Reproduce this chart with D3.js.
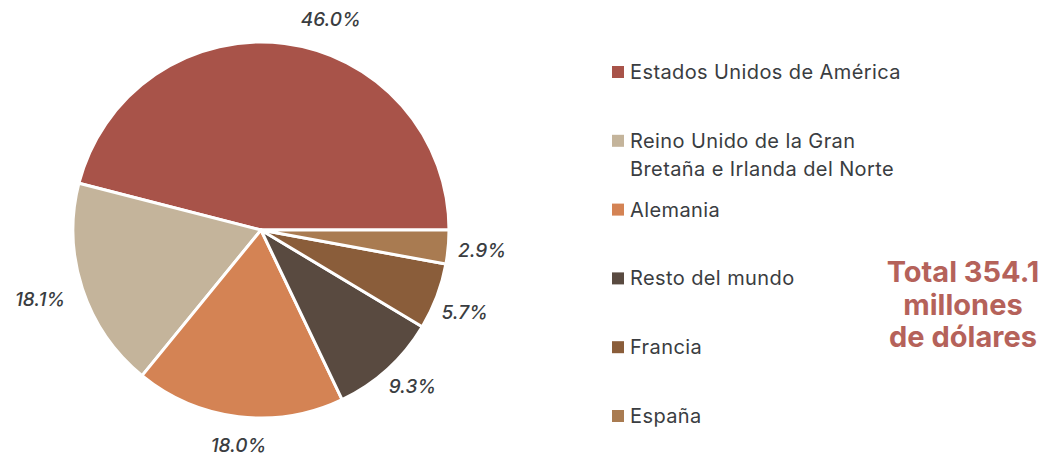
<!DOCTYPE html>
<html lang="en">
<head>
    <meta charset="utf-8">
    <script src="https://d3js.org/d3.v7.min.js"></script>
    <style>
        body { margin: 0; background: #fff; }
        svg text { font-family: Inter, Roboto, "Noto Sans", sans-serif; }
    </style>
</head>
<body>
    <script>
        // data
        let countries = ["Estados Unidos de América", "Reino Unido de la Gran Bretaña e Irlanda del Norte",
            "Alemania", "Resto del mundo", "Francia", "España"];
        let legendLines = [["Estados Unidos de América"], ["Reino Unido de la Gran", "Bretaña e Irlanda del Norte"],
            ["Alemania"], ["Resto del mundo"], ["Francia"], ["España"]];
        let shares = [46.0, 18.1, 18.0, 9.3, 5.7, 2.9];
        let colors = ["#a85349", "#c4b49b", "#d48354", "#594a40", "#8a5d3a", "#a97b51"];
        let totalLines = ["Total 354.1", "millones", "de dólares"];

        var width = 1058, height = 458;
        var cx = 261, cy = 230, radius = 188;

        var svg = d3.select("body").append("svg")
            .attr("width", width)
            .attr("height", height);

        var data = countries.map(function(c, i) {
            return { name: c, value: shares[i], color: colors[i], lines: legendLines[i] };
        });

        // slices run counter-clockwise from 3 o'clock
        var pie = d3.pie()
            .sort(null)
            .value(function(d) { return d.value; })
            .startAngle(Math.PI / 2)
            .endAngle(Math.PI / 2 - 2 * Math.PI);

        var arc = d3.arc().innerRadius(0).outerRadius(radius);
        var labelArc = d3.arc().innerRadius(radius + 34).outerRadius(radius + 34);

        var g = svg.append("g").attr("transform", "translate(" + cx + "," + cy + ")");

        var arcs = pie(data);

        g.selectAll("path")
            .data(arcs)
            .enter()
            .append("path")
            .attr("d", arc)
            .attr("fill", function(d) { return d.data.color; })
            .attr("stroke", "#fff")
            .attr("stroke-width", 3)
            .attr("stroke-linejoin", "round");

        // a couple of labels sit a bit off the bisector in the original
        var nudge = { 0: [42, 10], 1: [-10, 0], 2: [4, -5], 3: [2, -8], 4: [-4, 4] };

        g.selectAll("text.pct")
            .data(arcs)
            .enter()
            .append("text")
            .attr("class", "pct")
            .attr("transform", function(d, i) {
                var c = labelArc.centroid(d);
                var n = nudge[i] || [0, 0];
                return "translate(" + (c[0] + n[0]) + "," + (c[1] + n[1]) + ")";
            })
            .attr("dy", "0.35em")
            .attr("text-anchor", "middle")
            .style("font-size", "19px")
            .style("font-style", "italic")
            .style("font-weight", "500")
            .style("fill", "#3a3d41")
            .text(function(d) { return d.data.value.toFixed(1) + "%"; });

        // legend
        var legendY = d3.scaleLinear().domain([0, data.length - 1]).range([72, 416]);

        var legend = svg.selectAll("g.legend")
            .data(data)
            .enter()
            .append("g")
            .attr("class", "legend")
            .attr("transform", function(d, i) {
                return "translate(612," + legendY(i) + ")";
            });

        legend.append("rect")
            .attr("x", 0)
            .attr("y", -6)
            .attr("width", 12)
            .attr("height", 12)
            .attr("fill", function(d) { return d.color; });

        legend.each(function(d) {
            var t = d3.select(this).append("text")
                .attr("x", 18)
                .attr("y", 0)
                .style("font-size", "20px")
                .style("letter-spacing", "0.4px")
                .style("fill", "#3a3d41");
            d.lines.forEach(function(line, k) {
                t.append("tspan")
                    .attr("x", 18)
                    .attr("dy", k === 0 ? "0.35em" : "28px")
                    .text(line);
            });
        });

        // total
        svg.append("text")
            .attr("x", 963)
            .attr("y", 272)
            .attr("text-anchor", "middle")
            .style("font-size", "29px")
            .style("font-weight", "bold")
            .style("fill", "#b5625a")
            .selectAll("tspan")
            .data(totalLines)
            .enter()
            .append("tspan")
            .attr("x", 963)
            .attr("dy", function(d, i) { return i === 0 ? "0.35em" : "32.5px"; })
            .text(function(d) { return d; });
    </script>
</body>
</html>
